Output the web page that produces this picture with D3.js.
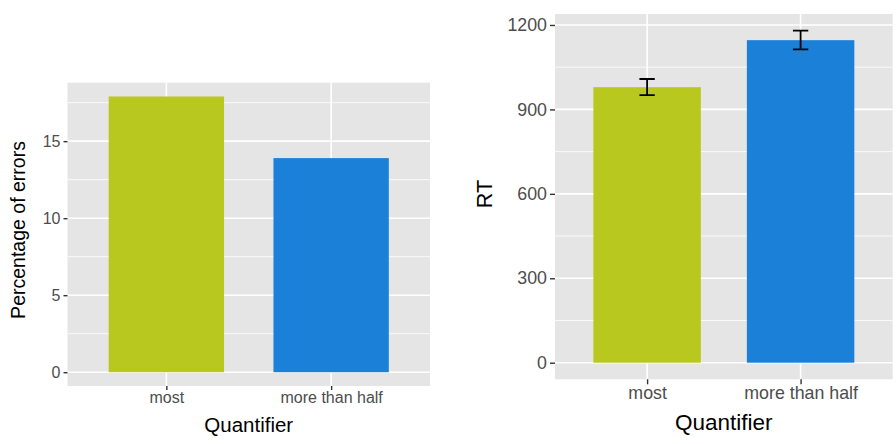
<!DOCTYPE html>
<html>
<head>
<meta charset="utf-8">
<script src="https://cdn.jsdelivr.net/npm/d3@7/dist/d3.min.js"></script>
<style>
  html, body { margin: 0; padding: 0; background: #fff; }
  svg { display: block; font-family: "Liberation Sans", Arial, Helvetica, sans-serif; }
</style>
</head>
<body>
<svg id="chart" width="896" height="444"></svg>
<script>
// ---- data ----
const categories = ["most", "more than half"];
const barColors = ["#B8C81E", "#1B80D8"];
const errorPct = [17.9, 13.9];
const errorTicks = [0, 5, 10, 15];
const errorMinor = [2.5, 7.5, 12.5, 17.5];
const rtMean = [979, 1146];
const rtLow = [951, 1113];
const rtHigh = [1008, 1180];
const rtTicks = [0, 300, 600, 900, 1200];
const rtMinor = [150, 450, 750, 1050];

const svg = d3.select("#chart");

function panel(cfg) {
  const g = svg.append("g");
  // ggplot discrete: positions 1..n with 0.6 expansion, bar width 0.7
  const unit = (cfg.x1 - cfg.x0) / (categories.length - 1 + 1.2);
  const xs = d3.scalePoint().domain(categories)
    .range([cfg.x0 + 0.6 * unit, cfg.x1 - 0.6 * unit]);
  const y = d3.scaleLinear().domain([cfg.ymin, cfg.ymax]).range([cfg.y1, cfg.y0]);

  g.append("rect").attr("x", cfg.x0).attr("y", cfg.y0)
    .attr("width", cfg.x1 - cfg.x0).attr("height", cfg.y1 - cfg.y0).attr("fill", "#E5E5E5");

  g.selectAll(".minor").data(cfg.minor).join("line")
    .attr("x1", cfg.x0).attr("x2", cfg.x1)
    .attr("y1", d => y(d)).attr("y2", d => y(d))
    .attr("stroke", "#fff").attr("stroke-width", 0.8);
  g.selectAll(".major").data(cfg.ticks).join("line")
    .attr("x1", cfg.x0).attr("x2", cfg.x1)
    .attr("y1", d => y(d)).attr("y2", d => y(d))
    .attr("stroke", "#fff").attr("stroke-width", 1.6);
  g.selectAll(".vmajor").data(categories).join("line")
    .attr("x1", d => xs(d)).attr("x2", d => xs(d))
    .attr("y1", cfg.y0).attr("y2", cfg.y1)
    .attr("stroke", "#fff").attr("stroke-width", 1.6);

  g.selectAll(".bar").data(cfg.values).join("rect")
    .attr("x", (d, i) => xs(categories[i]) - 0.35 * unit)
    .attr("width", 0.7 * unit)
    .attr("y", d => y(d))
    .attr("height", d => y(0) - y(d))
    .attr("fill", (d, i) => barColors[i]);

  if (cfg.low) {
    const hw = 0.05 * unit;
    cfg.low.forEach((lo, i) => {
      const c = xs(categories[i]);
      const hi = cfg.high[i];
      g.append("path")
        .attr("d", `M${c - hw},${y(hi)}H${c + hw}M${c},${y(hi)}V${y(lo)}M${c - hw},${y(lo)}H${c + hw}`)
        .attr("stroke", "#000").attr("stroke-width", 1.8).attr("fill", "none");
    });
  }

  // y axis
  const ya = g.append("g").attr("transform", `translate(${cfg.x0},0)`)
    .call(d3.axisLeft(y).tickValues(cfg.ticks).tickFormat(d3.format("d"))
      .tickSize(cfg.tickLen).tickPadding(3));
  ya.select(".domain").remove();
  ya.selectAll(".tick line").attr("stroke", "#333").attr("stroke-width", 1.4);
  ya.selectAll(".tick text").attr("fill", "#4D4D4D").attr("font-size", cfg.tickFont)
    .attr("font-family", "Liberation Sans, Arial, sans-serif");

  // x axis
  const xa = g.append("g").attr("transform", `translate(0,${cfg.y1})`)
    .call(d3.axisBottom(xs).tickSize(cfg.tickLen).tickPadding(2));
  xa.select(".domain").remove();
  xa.selectAll(".tick line").attr("stroke", "#333").attr("stroke-width", 1.4);
  xa.selectAll(".tick text").attr("fill", "#4D4D4D").attr("font-size", cfg.tickFont)
    .attr("font-family", "Liberation Sans, Arial, sans-serif");

  g.append("text").attr("x", (cfg.x0 + cfg.x1) / 2).attr("y", cfg.xTitleY)
    .attr("text-anchor", "middle").attr("font-size", cfg.xTitleFont).attr("fill", "#000")
    .text("Quantifier");
  g.append("text")
    .attr("transform", `translate(${cfg.yTitleX},${cfg.yTitleY}) rotate(-90)`)
    .attr("text-anchor", "middle").attr("font-size", cfg.yTitleFont).attr("fill", "#000")
    .text(cfg.yTitle);
}

panel({
  x0: 67.5, x1: 430, y0: 82.7, y1: 386,
  ymin: -0.895, ymax: 18.795,
  values: errorPct, ticks: errorTicks, minor: errorMinor,
  tickLen: 4, tickFont: 16, xTitleFont: 20.5, yTitleFont: 19.5,
  xTitleY: 432, yTitleX: 25, yTitleY: 230, yTitle: "Percentage of errors"
});

panel({
  x0: 555, x1: 892.7, y0: 14, y1: 379.3,
  ymin: -59, ymax: 1239,
  values: rtMean, low: rtLow, high: rtHigh, ticks: rtTicks, minor: rtMinor,
  tickLen: 5, tickFont: 17.8, xTitleFont: 22.5, yTitleFont: 21.5,
  xTitleY: 430, yTitleX: 492, yTitleY: 194, yTitle: "RT"
});
</script>
</body>
</html>
